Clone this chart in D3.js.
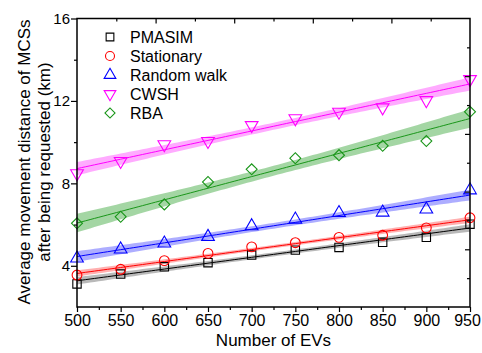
<!DOCTYPE html>
<html><head><meta charset="utf-8">
<script src="https://cdn.jsdelivr.net/npm/d3@7"></script>
<style>body{margin:0;background:#fff}svg{display:block}text{font-family:Arial,"Liberation Sans",sans-serif}</style>
</head><body><svg id="c" width="482" height="353"></svg>
<script>
const xValues = [500,550,600,650,700,750,800,850,900,950];
const pmasim = [3.12,3.60,3.95,4.15,4.52,4.76,4.89,5.14,5.38,6.02];
const stationary = [3.55,3.83,4.25,4.60,4.92,5.12,5.38,5.48,5.84,6.33];
const randomWalk = [4.36,4.80,5.09,5.41,5.93,6.25,6.57,6.59,6.74,7.67];
const cwsh = [8.48,9.08,9.89,10.05,10.82,11.15,11.47,11.68,12.03,13.05];
const rba = [6.06,6.38,6.98,8.07,8.68,9.22,9.37,9.82,10.05,11.47];
const seriesNames = ["PMASIM","Stationary","Random walk","CWSH","RBA"];
const xTickLabels = [500,550,600,650,700,750,800,850,900,950];
const yTickLabels = [4,8,12,16];

const styles = [
  {color:"#000000", band:"#7f7f7f", sym:d3.symbolSquare, size:70, rot:0},
  {color:"#ff0000", band:"#ff7070", sym:d3.symbolCircle, size:75, rot:0},
  {color:"#0000ff", band:"#6a6aff", sym:d3.symbolTriangle, size:70, rot:0},
  {color:"#ff00ff", band:"#ff66ff", sym:d3.symbolTriangle, size:70, rot:180},
  {color:"#1a961a", band:"#5ab45a", sym:d3.symbolSquare, size:60, rot:45}
];
const data = [pmasim, stationary, randomWalk, cwsh, rba];

const svg = d3.select("#c");
const L=77, R=470, T=18.5, B=307;
const x = d3.scaleLinear().domain([500,950]).range([L,R]);
const y = d3.scaleLinear().domain([2,16]).range([B,T]);

svg.append("defs").append("clipPath").attr("id","clip")
  .append("rect").attr("x",L).attr("y",T).attr("width",R-L).attr("height",B-T);

// linear fit + 95% confidence band
function fit(xs, ys){
  const n=xs.length, mx=d3.mean(xs), my=d3.mean(ys);
  let sxx=0,sxy=0; xs.forEach((v,i)=>{sxx+=(v-mx)**2; sxy+=(v-mx)*(ys[i]-my);});
  const b=sxy/sxx, a=my-b*mx;
  let sse=0; xs.forEach((v,i)=>{sse+=(ys[i]-a-b*v)**2;});
  const s=Math.sqrt(sse/(n-2)), t=2.306;
  const pts=d3.range(500,951,5).map(v=>{
    const yh=a+b*v, h=t*s*Math.sqrt(1/n+(v-mx)**2/sxx);
    return {x:v,y:yh,lo:yh-h,hi:yh+h};
  });
  return pts;
}

const g = svg.append("g").attr("clip-path","url(#clip)");
data.forEach((ys,i)=>{
  const pts=fit(xValues,ys);
  g.append("path").datum(pts)
    .attr("d",d3.area().x(d=>x(d.x)).y0(d=>y(d.lo)).y1(d=>y(d.hi)))
    .attr("fill",styles[i].band).attr("fill-opacity",0.55);
  g.append("path").datum(pts)
    .attr("d",d3.line().x(d=>x(d.x)).y(d=>y(d.y)))
    .attr("fill","none").attr("stroke",styles[i].color).attr("stroke-width",1);
});

function drawSym(sel, st, px, py){
  sel.append("path")
    .attr("d", d3.symbol().type(st.sym).size(st.size)())
    .attr("transform",`translate(${px},${py}) rotate(${st.rot})`)
    .attr("fill","none").attr("stroke",st.color).attr("stroke-width",1.1);
}
data.forEach((ys,i)=>{
  ys.forEach((v,j)=>drawSym(svg, styles[i], x(xValues[j]), y(v)));
});

// axes
const ax = svg.append("g").attr("stroke","#000").attr("stroke-width",1.5).attr("fill","none");
ax.append("rect").attr("x",L).attr("y",T).attr("width",R-L).attr("height",B-T);

const bottom = d3.axisBottom(x).tickValues(xTickLabels).tickSize(5).tickSizeOuter(0).tickFormat(d3.format("d"));
const bg = svg.append("g").attr("transform",`translate(0,${B})`).call(bottom);
bg.select(".domain").remove();
bg.selectAll("text").attr("font-size",16).attr("dy","0.71em").attr("y",8).attr("fill","#000")
  .attr("dx",d=> d===950 ? -3 : 0);
bg.selectAll("line").attr("stroke-width",1.2);
const bminor = d3.axisBottom(x).tickValues(d3.range(525,950,50)).tickSize(3).tickFormat("");
const bmg = svg.append("g").attr("transform",`translate(0,${B})`).call(bminor);
bmg.select(".domain").remove(); bmg.selectAll("line").attr("stroke-width",1.2);

const left = d3.axisLeft(y).tickValues(yTickLabels).tickSize(6).tickFormat(d3.format("d"));
const lg = svg.append("g").attr("transform",`translate(${L},0)`).call(left);
lg.select(".domain").remove();
lg.selectAll("text").attr("font-size",15).attr("fill","#000").attr("x",-7);
lg.selectAll("line").attr("stroke-width",1.2);
const lminor = d3.axisLeft(y).tickValues([6,10,14]).tickSize(3).tickFormat("");
const lmg = svg.append("g").attr("transform",`translate(${L},0)`).call(lminor);
lmg.select(".domain").remove(); lmg.selectAll("line").attr("stroke-width",1.2);

// top axis: 10 divisions, inward
const topTicks = d3.range(1,10).map(k=>500+45*k);
const tg = svg.append("g").attr("transform",`translate(0,${T})`)
  .call(d3.axisBottom(x).tickValues(topTicks).tickSize(5).tickFormat(""));
tg.select(".domain").remove();
tg.selectAll("line").attr("y2",(d,i)=> (i%2===1)?5:3).attr("stroke-width",1.2);
// right axis: 10 divisions, inward
const rightTicks = d3.range(1,10).map(k=>2+1.4*k);
const rg = svg.append("g").attr("transform",`translate(${R},0)`)
  .call(d3.axisLeft(y).tickValues(rightTicks).tickSize(5).tickFormat(""));
rg.select(".domain").remove();
rg.selectAll("line").attr("x2",(d,i)=> (i%2===1)?-5:-3).attr("stroke-width",1.2);

// axis titles
svg.append("text").attr("x",(L+R)/2).attr("y",346).attr("text-anchor","middle")
  .attr("font-size",17).text("Number of EVs");
const yl = svg.append("g").attr("transform","translate(0,162) rotate(-90)");
yl.append("text").attr("x",0).attr("y",30).attr("text-anchor","middle").attr("font-size",17)
  .text("Average movement distance of MCSs");
yl.append("text").attr("x",0).attr("y",50).attr("text-anchor","middle").attr("font-size",17)
  .text("after being requested (km)");

// legend
seriesNames.forEach((name,i)=>{
  const ly = 37 + i*19;
  const st = Object.assign({}, styles[i], {size: styles[i].size*0.85});
  drawSym(svg, st, 110, ly);
  svg.append("text").attr("x",130).attr("y",ly).attr("dy","0.36em").attr("font-size",16).text(name);
});
</script></body></html>
